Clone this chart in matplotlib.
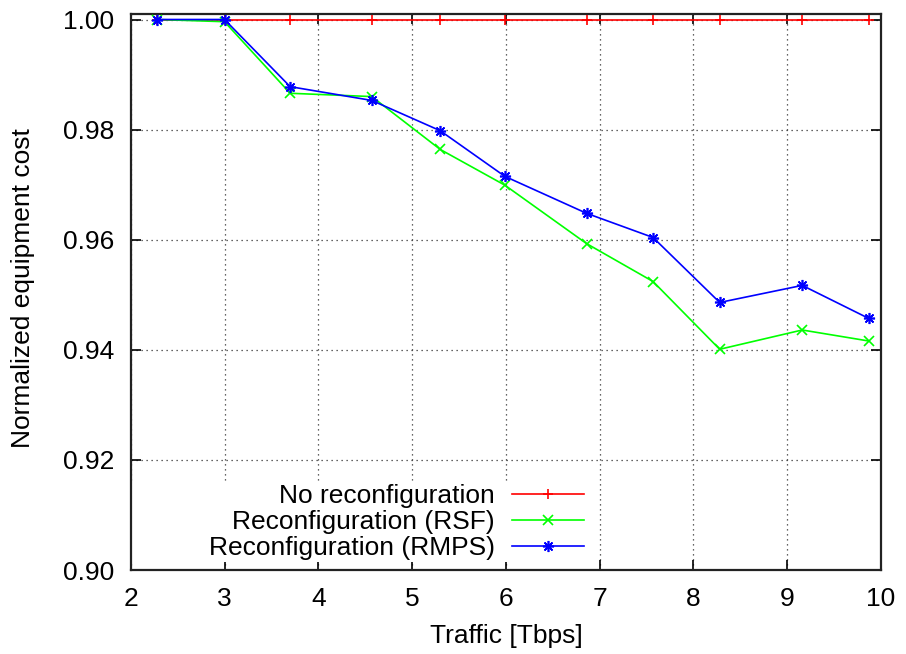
import matplotlib
matplotlib.use("Agg")
import matplotlib.pyplot as plt
from matplotlib.patches import Rectangle

plt.rcParams['font.family'] = ['Liberation Sans', 'DejaVu Sans']

traffic = [2.28, 3.00, 3.70, 4.57, 5.30, 5.99, 6.86, 7.57, 8.28, 9.16, 9.87]
no_reconf = [1.0, 1.0, 1.0, 1.0, 1.0, 1.0, 1.0, 1.0, 1.0, 1.0, 1.0]
reconf_rsf = [1.0, 0.9996, 0.9866, 0.9860, 0.9764, 0.9699, 0.9593, 0.9524, 0.9401, 0.9436, 0.9416]
reconf_rmps = [1.0, 1.0, 0.9878, 0.9853, 0.9798, 0.9715, 0.9648, 0.9604, 0.9486, 0.9517, 0.9457]

xticks = [2, 3, 4, 5, 6, 7, 8, 9, 10]
yticks = [0.90, 0.92, 0.94, 0.96, 0.98, 1.00]

FS = 19

fig = plt.figure(figsize=(9.06, 6.54), dpi=100)
ax = fig.add_axes([0.1443, 0.1284, 0.9724 - 0.1443, 0.9786 - 0.1284])

ax.plot(traffic, no_reconf, color='#ff0000', lw=1.2, marker='+', ms=7, mew=1.2,
        label='No reconfiguration', zorder=3)
ax.plot(traffic, reconf_rsf, color='#00ff00', lw=1.2, marker='x', ms=6.5, mew=1.2,
        label='Reconfiguration (RSF)', zorder=4)
ax.plot(traffic, reconf_rmps, color='#0000ff', lw=1.2, marker=(8, 2, 0), ms=8, mew=1.2,
        label='Reconfiguration (RMPS)', zorder=5)

ax.set_xlim(2, 10)
ax.set_ylim(0.90, 1.001)
ax.set_xticks(xticks)
ax.set_xticklabels([str(t) for t in xticks])
ax.set_yticks(yticks)
ax.set_yticklabels([f"{t:.2f}" for t in yticks])

ax.grid(True, linestyle=(0, (1, 3)), color='#333333', lw=0.9)
ax.tick_params(direction='in', length=7, width=1.2, labelsize=FS, pad=12,
               top=True, right=True, colors='black')
for s in ax.spines.values():
    s.set_linewidth(1.6)
    s.set_color('#222222')

ax.set_xlabel('Traffic [Tbps]', fontsize=FS)
ax.set_ylabel('Normalized equipment cost', fontsize=FS)
ax.xaxis.set_label_coords(0.5007, -0.119)
ax.xaxis.label.set_va('center')
ax.yaxis.set_label_coords(-0.144, 0.508)
ax.yaxis.label.set_va('center')

# opaque key area hiding the grid behind the legend, leaving the bottom ticks visible
ax.add_patch(Rectangle((0.002, 0.0145), 0.610, 0.1565 - 0.0145, transform=ax.transAxes,
                       facecolor='white', edgecolor='none', zorder=2))

leg = ax.legend(loc='center right', bbox_to_anchor=(0.604, 0.0863), markerfirst=False,
                fontsize=FS, frameon=False, handlelength=2.73, handletextpad=0.64,
                labelspacing=0.08, borderpad=0.0, borderaxespad=0.0)
leg.set_zorder(6)

fig.savefig('out.png', dpi=100)
